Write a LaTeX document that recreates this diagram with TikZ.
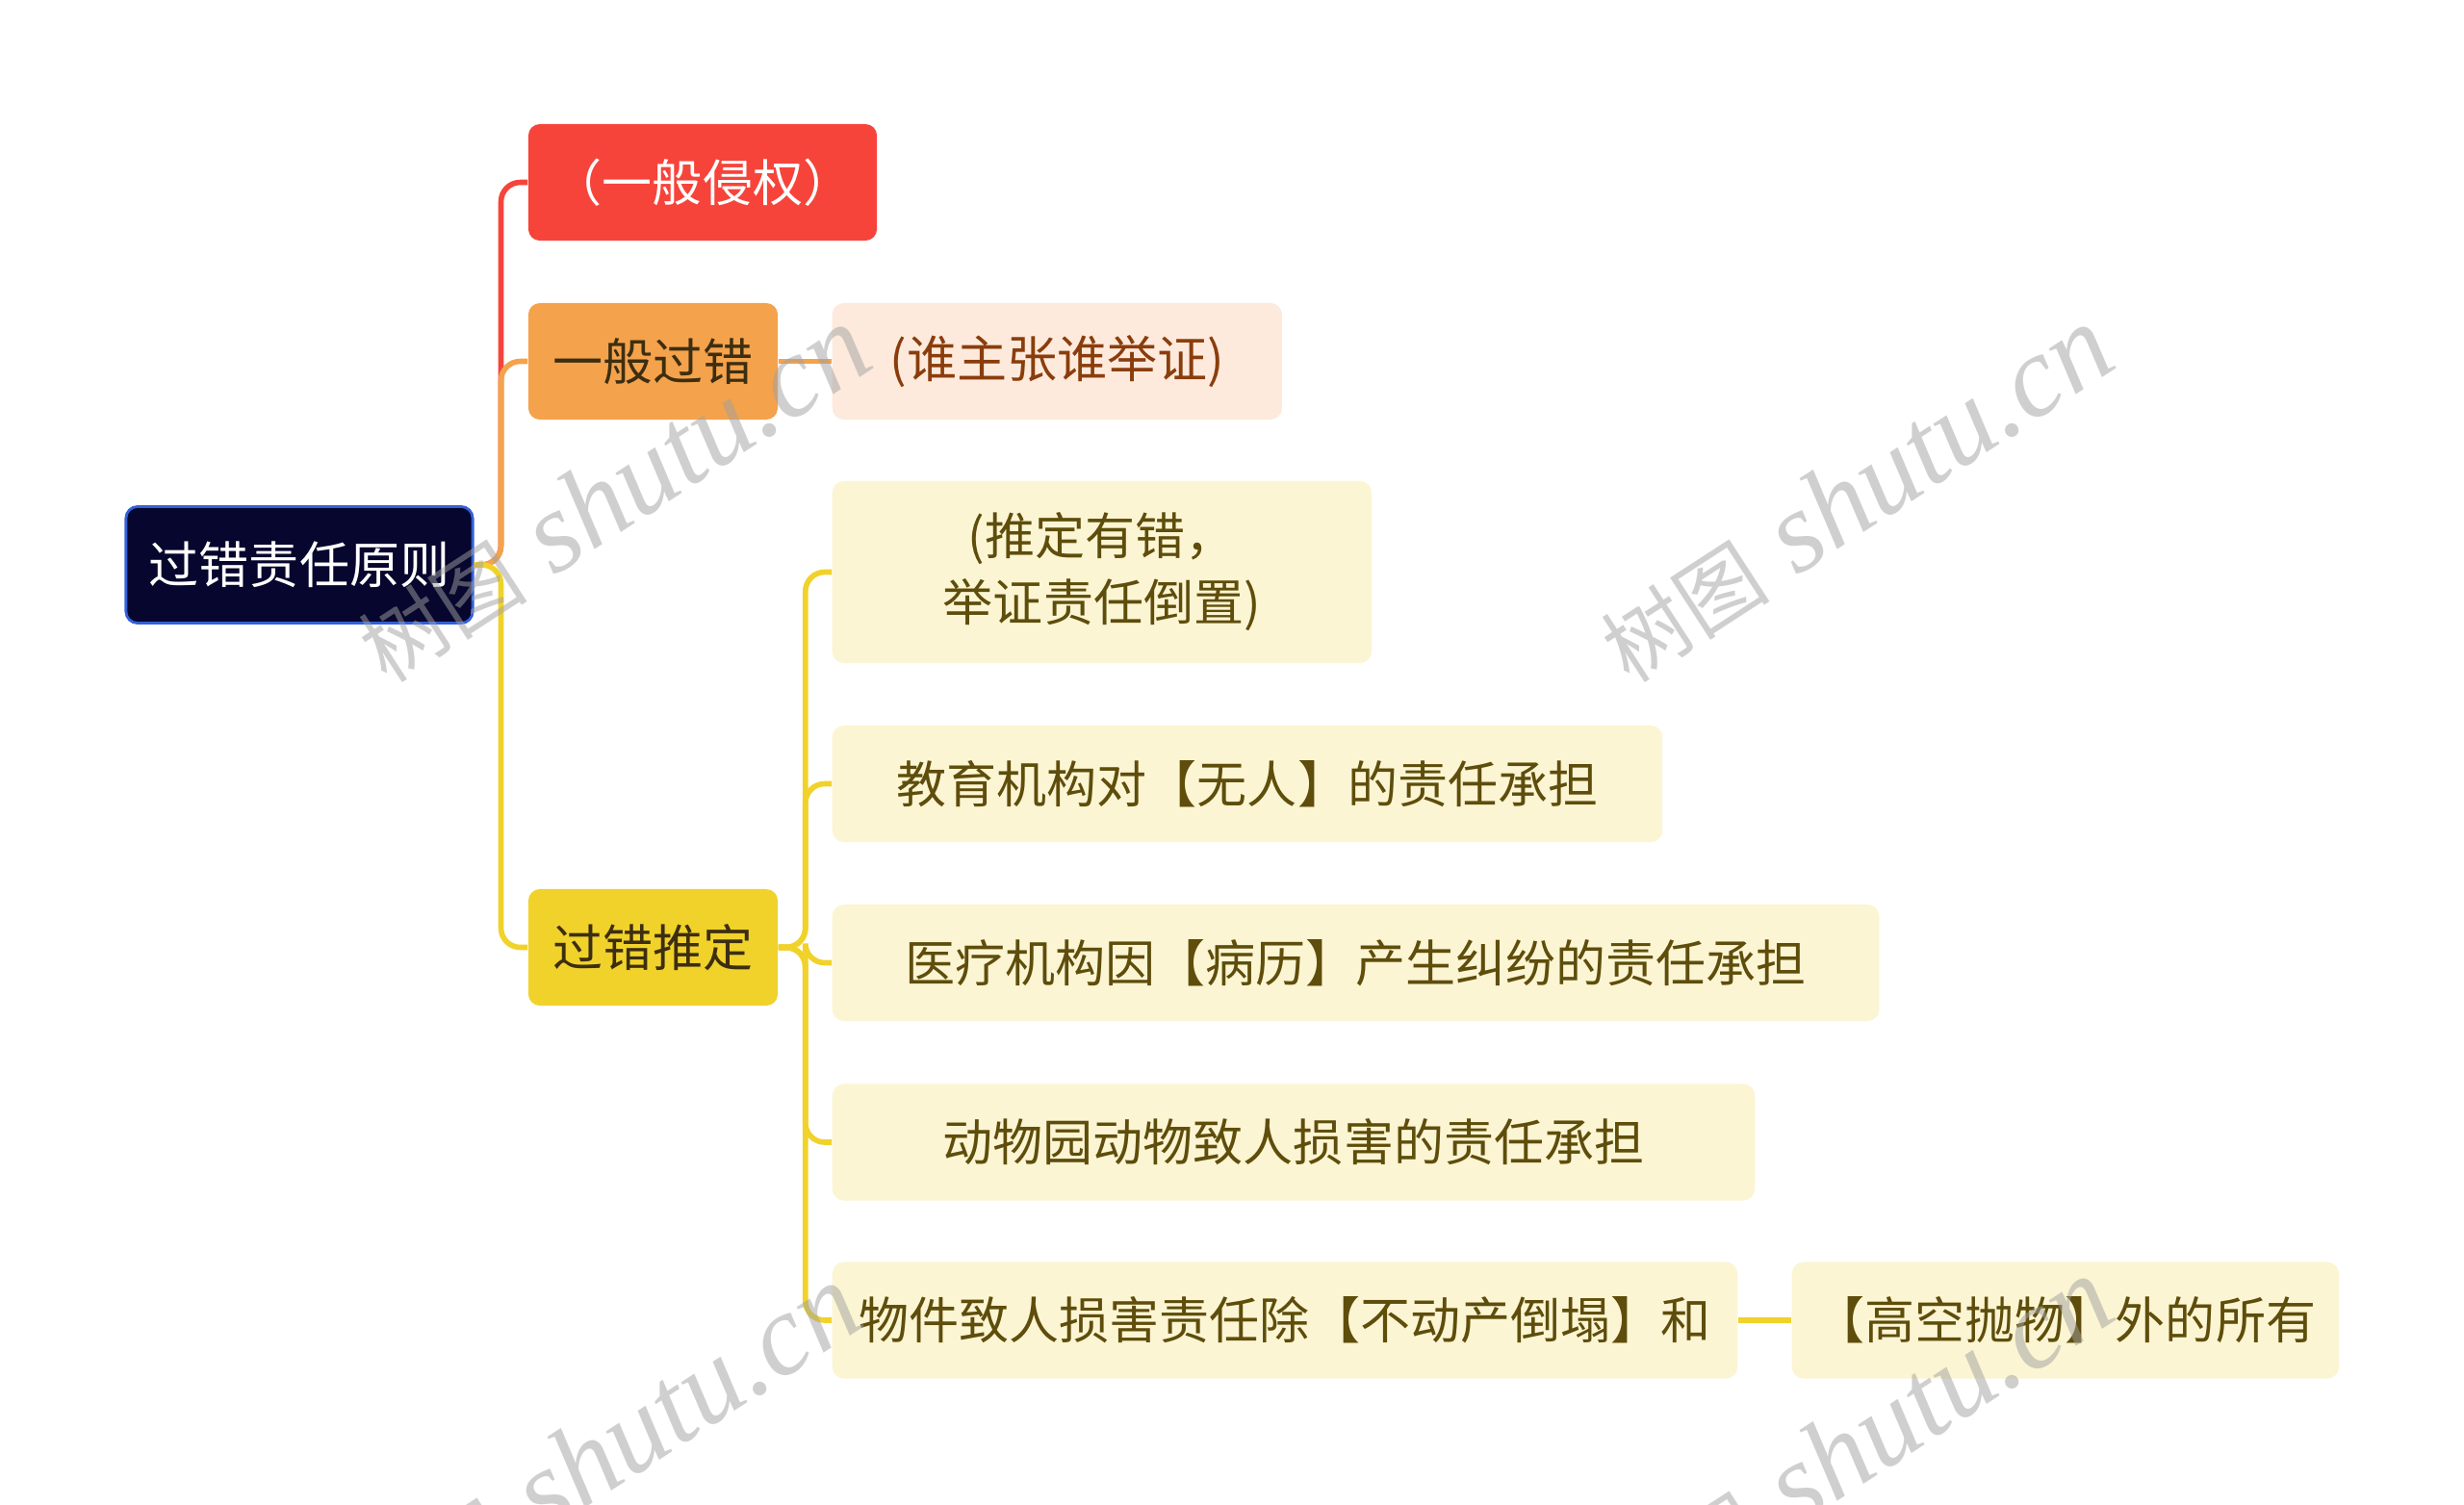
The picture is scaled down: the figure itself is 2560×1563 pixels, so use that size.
\documentclass[tikz,border=0pt]{standalone}
\usepackage{fontspec}
\newfontfamily\cjk{Noto Sans CJK SC}
\newfontfamily\wmfont{Liberation Serif}
\usepackage{tikz}
\usetikzlibrary{positioning}

\definecolor{rootbg}{HTML}{06062E}
\definecolor{rootline}{HTML}{3360D8}
\definecolor{redc}{HTML}{F6443B}
\definecolor{orangec}{HTML}{F4A24C}
\definecolor{peachbg}{HTML}{FDEADC}
\definecolor{peachtxt}{HTML}{8A3D0C}
\definecolor{yellowc}{HTML}{F0D22B}
\definecolor{leafbg}{HTML}{FCF5D3}
\definecolor{leaftxt}{HTML}{5E4D0B}
\definecolor{cattxt}{HTML}{3D2E10}

\begin{document}
\begin{tikzpicture}[
  x=0.01cm, y=-0.01cm,
  box/.style={rounded corners=1.2mm,minimum height=1.21cm,inner sep=0pt,
              align=center,font=\cjk\fontsize{14.8}{19.6}\selectfont},
  rootbox/.style={box,fill=rootbg,draw=rootline,line width=0.8pt,text=white},
  cat/.style={box,text=cattxt},
  leaf/.style={box,fill=leafbg,text=leaftxt,anchor=west},
  link/.style={line width=1.6pt,rounded corners=2mm},
  wmark/.style={rotate=33,text=black!37,text opacity=0.5,
                font=\wmfont\fontsize{34}{34}\selectfont}
]
  \fill[white] (0,0) rectangle (2560,1563);
  \useasboundingbox (0,0) rectangle (2560,1563);

  \node[rootbox,minimum width=3.6cm] (root) at (311,587) {过错责任原则};

  \node[cat,fill=redc,text=white,minimum width=3.62cm] (tort) at (730,189.5) {（一般侵权）};
  \node[cat,fill=orangec,minimum width=2.59cm] (fault) at (678.5,375.5) {一般过错};
  \node[cat,fill=yellowc,minimum width=2.59cm] (presume) at (678.5,984.5) {过错推定};

  \node[box,fill=peachbg,text=peachtxt,minimum width=4.67cm,anchor=west] (burden) at (864,375.5) {(谁主张谁举证)};

  \node[leaf,minimum width=5.6cm,minimum height=1.89cm] (reverse) at (864,594.5) {(推定有错，\\举证责任倒置)};
  \node[leaf,minimum width=8.62cm] (school) at (864,814.5) {教育机构对【无人】的责任承担};
  \node[leaf,minimum width=10.87cm] (hospital) at (864,1000.5) {医疗机构因【病历】产生纠纷的责任承担};
  \node[leaf,minimum width=9.58cm] (zoo) at (864,1187) {动物园动物致人损害的责任承担};
  \node[leaf,minimum width=9.4cm] (objects) at (864,1372) {物件致人损害责任除【不动产倒塌】和};
  \node[leaf,minimum width=5.68cm] (falling) at (1861,1372) {【高空抛物】外的所有};

  \draw[link,redc] (root.east) -- ++(28,0) |- (tort.west);
  \draw[link,orangec] (root.east) -- ++(28,0) |- (fault.west);
  \draw[link,yellowc] (root.east) -- ++(28,0) |- (presume.west);
  \draw[link,orangec] (fault) -- (burden);
  \foreach \n in {reverse,school,hospital,zoo,objects}
    \draw[link,yellowc] (presume.east) -- ++(28,0) |- (\n.west);
  \draw[link,yellowc] (objects) -- (falling);

  % watermark
  \foreach \p [count=\i] in {(637,514),(1928,514),(627,1510),(1928,1503)}
    \node[wmark] (wm\i) at \p {{\cjk\fontsize{25}{25}\selectfont 树图} \itshape shutu.cn};
\end{tikzpicture}
\end{document}
